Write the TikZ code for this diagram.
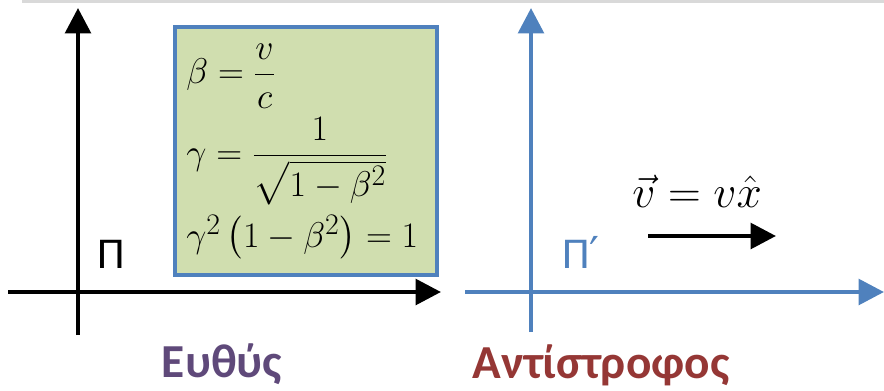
\documentclass[tikz,border=0pt]{standalone}
\usepackage{amsmath}
\usepackage{graphicx}
\usepackage{fontspec}
\setsansfont{Carlito}
\newfontfamily\primefont{DejaVu Sans}
\usetikzlibrary{arrows.meta,positioning}
\definecolor{frameblue}{HTML}{4F81BD}
\definecolor{boxgreen}{HTML}{D0DEAF}
\definecolor{titlepurple}{HTML}{5F497A}
\definecolor{titlered}{HTML}{953735}
\newcommand{\eqsize}[1]{\scalebox{1.08}{#1}}

\begin{document}
\begin{tikzpicture}[x=0.75pt,y=-0.75pt,
    axis/.style={line width=3.4pt,-{Triangle[length=19pt,width=19pt]}},
    framelabel/.style={anchor=base west,inner sep=0pt,font=\sffamily\fontsize{33}{36}\selectfont},
    title/.style={anchor=base,inner sep=0pt,font=\sffamily\bfseries\fontsize{35.5}{40}\selectfont},
    eqline/.style={anchor=west,inner sep=0pt,font=\fontsize{24.88}{30}\selectfont}]
  \useasboundingbox (0,0) rectangle (884,390);
  % edge of the slide above
  \fill[gray!30] (22,-4) rectangle (884,2.5);
  % frame Pi
  \coordinate (pibot) at (78,335);
  \coordinate (pitop) at (78,8);
  \coordinate (pileft) at (8,292);
  \coordinate (piright) at (441,292);
  \draw[axis] (pibot) -- (pitop);
  \draw[axis] (pileft) -- (piright);
  \node[framelabel] (pi) at (97,268) {Π};
  % box of relations
  \node[draw=frameblue, fill=boxgreen, line width=3pt,
        minimum width=196.5pt, minimum height=186pt] (eqbox) at (306,151) {};
  \node[eqline] (eqbeta) at (186,76) {\eqsize{$\beta = \dfrac{v}{c}$}};
  \node[eqline] (eqgamma) at (186,161) {\eqsize{$\gamma = \dfrac{1}{\sqrt{1-\beta^2}}$}};
  \node[eqline, anchor=base west] (eqid) at (186,247) {\eqsize{$\gamma^2\left(1-\beta^2\right) = 1$}};
  % frame Pi prime
  \coordinate (ppbot) at (531,332);
  \coordinate (pptop) at (531,8);
  \coordinate (ppleft) at (465,292);
  \coordinate (ppright) at (884,292);
  \draw[axis, frameblue] (ppbot) -- (pptop);
  \draw[axis, frameblue] (ppleft) -- (ppright);
  \node[framelabel, text=frameblue] (pip) at (562,268) {Π{\primefont\fontsize{33}{36}\selectfont ′}};
  % velocity
  \node[anchor=base west, inner sep=0pt, font=\fontsize{24.88}{30}\selectfont] (vel) at (632,207) {\scalebox{1.37}{$\vec{v} = v\hat{x}$}};
  \coordinate (vstart) at (648,236);
  \coordinate (vend) at (776,236);
  \draw[axis] (vstart) -- (vend);
  % titles
  \node[title, text=titlepurple] (direct) at (222,377) {Ευθύς};
  \node[title, text=titlered] (inverse) at (601,378) {Αντίστροφος};
\end{tikzpicture}
\end{document}
